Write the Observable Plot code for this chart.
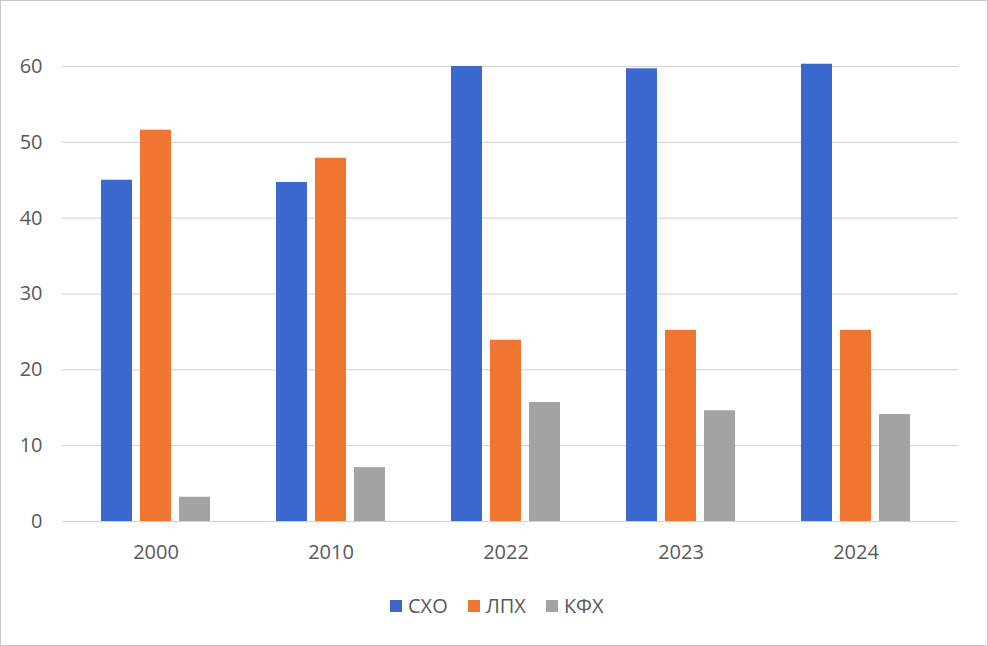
<!DOCTYPE html>
<html><head><meta charset="utf-8">
<script src="https://cdn.jsdelivr.net/npm/d3@7"></script>
<script src="https://cdn.jsdelivr.net/npm/@observablehq/plot@0.6"></script>
<style>
body{margin:0;background:#fff;}
#chart{position:relative;width:986px;height:644px;border:1px solid #c8c8c8;overflow:hidden;background:#fff;font-family:"Open Sans",sans-serif;}
#legend{position:absolute;left:389px;top:588px;}
.lg-swatch > svg{margin-right:6px !important;}
.lg-swatch{margin-right:20px !important;}
</style></head><body><div id="chart"><div id="legend"></div></div>
<script>
const years = ["2000", "2010", "2022", "2023", "2024"];
const series = ["СХО", "ЛПХ", "КФХ"];
const sxo = [45.0, 44.7, 60.0, 59.7, 60.3];
const lph = [51.6, 47.9, 23.9, 25.2, 25.2];
const kfh = [3.2, 7.1, 15.7, 14.6, 14.1];
const yTicks = [0, 10, 20, 30, 40, 50, 60];
const colors = ["#3a68cf", "#f07530", "#a3a3a3"];

const values = [sxo, lph, kfh];
const offsets = [-39, 0, 39];
const textColor = "#595959";

const barMarks = series.map((s, k) =>
  Plot.barY(years.map((y, i) => ({year: y, value: values[k][i], s})), {
    x: "year", y: "value", fill: colors[k], dx: offsets[k]
  })
);

const plot = Plot.plot({
  width: 986,
  height: 570,
  marginLeft: 66.5,
  marginRight: 44.5,
  marginTop: 65,
  marginBottom: 50,
  style: {fontFamily: "'Open Sans', sans-serif", fontSize: "20px", color: textColor, background: "#fff"},
  x: {domain: years, paddingInner: 0.823, paddingOuter: 0.4114, label: null},
  y: {domain: [0, 60], label: null},
  marks: [
    Plot.ruleY(yTicks, {stroke: "#d0d0d0", strokeWidth: 1, insetLeft: -5.5, insetRight: -15.5}),
    ...barMarks,
    Plot.axisY(yTicks, {tickSize: 0, tickPadding: 25.5, fontSize: 20, fill: textColor, label: null}),
    Plot.axisX(years, {tickSize: 0, tickPadding: 23.5, fontSize: 20, fill: textColor, label: null})
  ]
});
const chart = document.getElementById("chart");
chart.insertBefore(plot, chart.firstChild);

const legend = Plot.legend({
  color: {type: "categorical", domain: series, range: colors},
  swatchSize: 12,
  className: "lg",
  style: {fontFamily: "'Open Sans', sans-serif", fontSize: "20px", color: textColor, margin: "0"}
});
document.getElementById("legend").appendChild(legend);
</script>
</body></html>
